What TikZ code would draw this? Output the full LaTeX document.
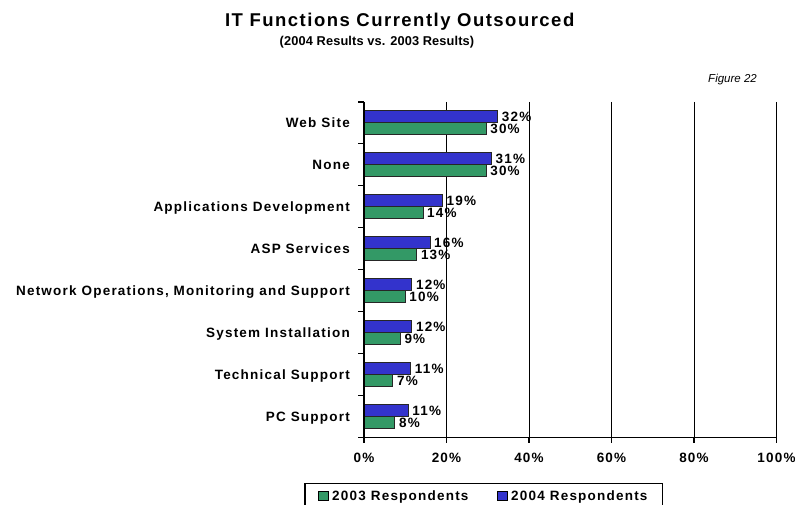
\documentclass[tikz,border=0pt]{standalone}
\usepackage{fontspec}
\setmainfont{Liberation Sans}
\newfontfamily\chartfont[LetterSpace=9]{Liberation Sans}
\newfontfamily\titlefont[LetterSpace=8]{Liberation Sans}
\newfontfamily\subfont[LetterSpace=1]{Liberation Sans}
\usepackage{tikz}
\usetikzlibrary{positioning}

\definecolor{green03}{HTML}{339966}
\definecolor{blue04}{HTML}{3333CC}

\begin{document}
\begin{tikzpicture}[
    x=1pt, y=-1pt,
    every node/.style={inner sep=0pt, font=\chartfont\bfseries\fontsize{13.5}{15}\selectfont},
    catlabel/.style={anchor=base east},
    vallabel/.style={anchor=base west},
    ticklabel/.style={anchor=base},
    bar/.style={draw=black!85, line width=0.9pt},
    gridline/.style={draw=black, line width=1pt},
    axis/.style={draw=black, line width=1.2pt},
    swatch/.style={draw=black, line width=0.8pt, minimum width=10pt, minimum height=9pt}
]
\useasboundingbox (0,0) rectangle (795,505);

% title block
\node[anchor=base, font=\titlefont\bfseries\fontsize{18.5}{20}\selectfont] (title) at (399.7,26.7) {IT Functions Currently Outsourced};
\node[anchor=base, font=\subfont\bfseries\fontsize{12.8}{15}\selectfont] (subtitle) at (377,46) {(2004 Results vs. 2003 Results)};
\node[anchor=base east, font=\itshape\fontsize{11.5}{13}\selectfont] (fignum) at (757,83) {Figure 22};

% grid
\foreach \p in {20,40,60,80,100}
  \draw[gridline] (364+4.125*\p,102) -- (364+4.125*\p,437.5);

% bars and labels
\foreach \cat/\vnew/\vold/\tnew/\told [count=\i] in {
    {Web Site}/32.4/29.6/32/30,
    {None}/30.9/29.6/31/30,
    {Applications Development}/19/14.3/19/14,
    {ASP Services}/16/12.8/16/13,
    {Network Operations, Monitoring and Support}/11.6/10/12/10,
    {System Installation}/11.6/8.8/12/9,
    {Technical Support}/11.3/7/11/7,
    {PC Support}/10.7/7.5/11/8}
{
  \pgfmathsetmacro{\yc}{102+(\i-0.5)*41.9}
  \pgfmathsetmacro{\xnew}{364+4.125*\vnew}
  \pgfmathsetmacro{\xold}{364+4.125*\vold}
  \node[catlabel] (cat\i) at (350,\yc+4.8) {\cat};
  \draw[bar, fill=blue04] (364,\yc-12) rectangle (\xnew,\yc);
  \draw[bar, fill=green03] (364,\yc) rectangle (\xold,\yc+12);
  \node[vallabel] (new\i) at (\xnew+4,\yc-1.2) {\tnew\%};
  \node[vallabel] (old\i) at (\xold+4,\yc+10.8) {\told\%};
}

% axes
\draw[axis] (364,102) -- (364,437.5);
\draw[axis] (358,437.5) -- (777,437.5);
\foreach \j in {0,...,7}
  \draw[axis] (358,102+41.9*\j) -- (364,102+41.9*\j);
\foreach \p [count=\k] in {0,20,...,100} {
  \draw[axis] (364+4.125*\p,437.5) -- (364+4.125*\p,442.5);
  \node[ticklabel] (tick\k) at (364+4.125*\p,462) {\p\%};
}

% legend
\draw[line width=1.2pt] (305,483.3) rectangle (662.7,510);
\node[swatch, fill=green03] (sw03) at (323.8,496) {};
\node[anchor=base west] (leg03) at (332,500.5) {2003 Respondents};
\node[swatch, fill=blue04] (sw04) at (502,496) {};
\node[anchor=base west] (leg04) at (511,500.5) {2004 Respondents};
\end{tikzpicture}
\end{document}
